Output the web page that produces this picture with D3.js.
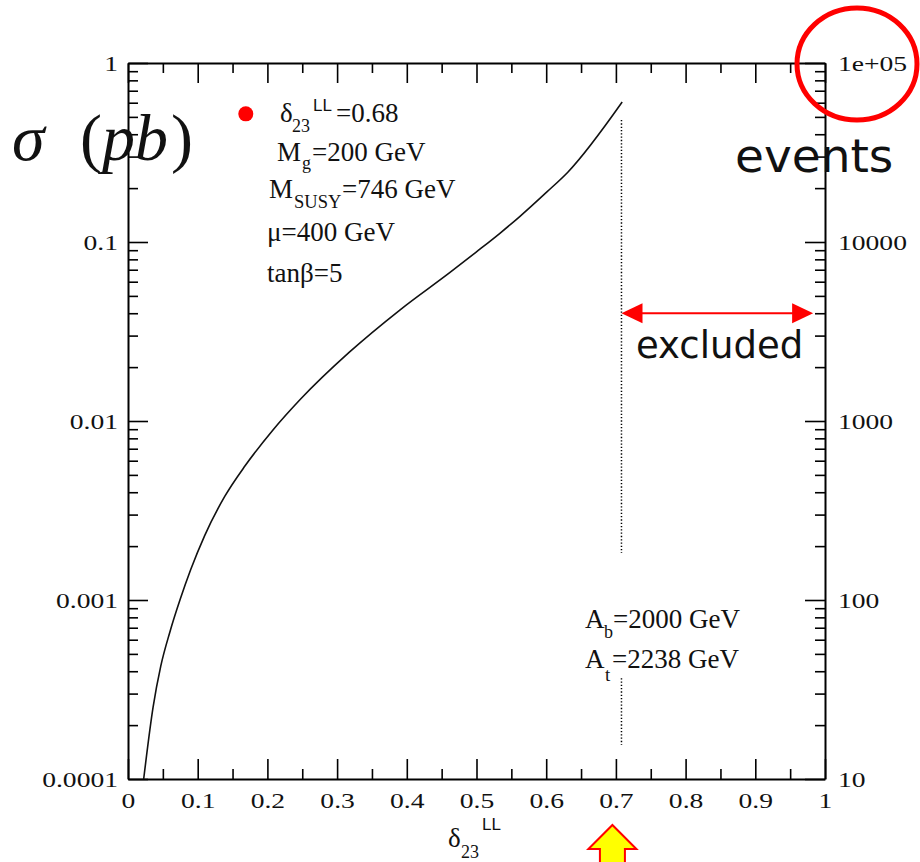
<!DOCTYPE html>
<html>
<head>
<meta charset="utf-8">
<script src="https://cdn.jsdelivr.net/npm/d3@7"></script>
<style>
  body { margin: 0; background: #fff; }
  svg { display: block; }
</style>
</head>
<body>
<svg id="chart" width="920" height="862"></svg>
<script>
// ---- data ----
const delta = [0.0225, 0.036, 0.047, 0.060, 0.075, 0.090, 0.110, 0.139, 0.168, 0.208, 0.247, 0.318, 0.390, 0.462, 0.500, 0.534, 0.562, 0.601, 0.631, 0.709];
const sigma = [1.0e-4, 2.52e-4, 4.27e-4, 6.61e-4, 1.012e-3, 1.479e-3, 2.291e-3, 3.80e-3, 5.62e-3, 8.91e-3, 0.01318, 0.02432, 0.04169, 0.06761, 0.0881, 0.1122, 0.1387, 0.1905, 0.2455, 0.6053];

const xTicks = [0, 0.1, 0.2, 0.3, 0.4, 0.5, 0.6, 0.7, 0.8, 0.9, 1];
const xTickLabels = ["0", "0.1", "0.2", "0.3", "0.4", "0.5", "0.6", "0.7", "0.8", "0.9", "1"];
const xMinor = [0.05, 0.15, 0.25, 0.35, 0.45, 0.55, 0.65, 0.75, 0.85, 0.95];
const yTicks = [1e-4, 1e-3, 1e-2, 0.1, 1];
const yTickLabels = ["0.0001", "0.001", "0.01", "0.1", "1"];
const eventTicks = [10, 100, 1000, 10000, 100000];
const eventTickLabels = ["10", "100", "1000", "10000", "1e+05"];

const exclusionX = 0.708;                 // vertical dotted line position
const dottedUpper = [0.48, 1.83e-3];      // sigma range of the upper dotted piece
const dottedLower = [3.66e-4, 1.55e-4];   // sigma range of the lower dotted piece
const excludedArrow = { x0: 0.708, x1: 0.983, y: 0.04 };
const legendDot = { x: 0.169, y: 0.52 };
const markerArrowX = 0.695;

// ---- layout ----
const svg = d3.select("#chart");
const L = 128, R = 825, T = 63, B = 779;
const x = d3.scaleLinear().domain([0, 1]).range([L, R]);
const y = d3.scaleLog().domain([1e-4, 1]).range([B, T]);
const yR = d3.scaleLog().domain([10, 1e5]).range([B, T]);

const yMinor = [];
for (let e = -4; e < 0; e++) for (let k = 2; k <= 9; k++) yMinor.push(k * Math.pow(10, e));
const yRMinor = yMinor.map(v => v * 1e5);

const SERIF = "Liberation Serif, Times New Roman, serif";
const SANS = "Liberation Sans, Arial, sans-serif";

// horizontal stretch of tick labels: the reference's "10000" is about 69 px wide
const probe = svg.append("text").attr("font-family", SERIF).attr("font-size", 22).text("10000");
const probeW = probe.node().getComputedTextLength() || 55;
probe.remove();
const K = 69 / probeW;

function styleAxis(g, w) {
  g.selectAll("path").attr("stroke", "#000").attr("stroke-width", 2).attr("fill", "none");
  g.selectAll("line").attr("stroke", "#000").attr("stroke-width", w);
  g.selectAll("text").attr("font-family", SERIF).attr("font-size", 22).attr("fill", "#111")
    .attr("transform", `scale(${K},1)`);
}

// minor ticks
svg.append("g").attr("transform", `translate(0,${B})`)
  .call(d3.axisBottom(x).tickValues(xMinor).tickSizeInner(-10).tickSizeOuter(0).tickFormat(""))
  .call(g => { styleAxis(g, 1.6); g.select("path").remove(); });
svg.append("g").attr("transform", `translate(0,${T})`)
  .call(d3.axisTop(x).tickValues(xMinor).tickSizeInner(-10).tickSizeOuter(0).tickFormat(""))
  .call(g => { styleAxis(g, 1.6); g.select("path").remove(); });
svg.append("g").attr("transform", `translate(${L},0)`)
  .call(d3.axisLeft(y).tickValues(yMinor).tickSizeInner(-10).tickSizeOuter(0).tickFormat(""))
  .call(g => { styleAxis(g, 1.6); g.select("path").remove(); });
svg.append("g").attr("transform", `translate(${R},0)`)
  .call(d3.axisRight(yR).tickValues(yRMinor).tickSizeInner(-10).tickSizeOuter(0).tickFormat(""))
  .call(g => { styleAxis(g, 1.6); g.select("path").remove(); });

// major axes
svg.append("g").attr("transform", `translate(0,${B})`)
  .call(d3.axisBottom(x).tickValues(xTicks).tickSizeInner(-20).tickSizeOuter(0).tickPadding(13)
    .tickFormat((d, i) => xTickLabels[i]))
  .call(g => styleAxis(g, 1.6));
svg.append("g").attr("transform", `translate(0,${T})`)
  .call(d3.axisTop(x).tickValues(xTicks).tickSizeInner(-20).tickSizeOuter(0).tickFormat(""))
  .call(g => styleAxis(g, 1.6));
svg.append("g").attr("transform", `translate(${L},0)`)
  .call(d3.axisLeft(y).tickValues(yTicks).tickSizeInner(-20).tickSizeOuter(0)
    .tickFormat((d, i) => yTickLabels[i]))
  .call(g => { styleAxis(g, 1.6); g.selectAll("text").attr("x", -10 / K); });
svg.append("g").attr("transform", `translate(${R},0)`)
  .call(d3.axisRight(yR).tickValues(eventTicks).tickSizeInner(-20).tickSizeOuter(0)
    .tickFormat((d, i) => eventTickLabels[i]))
  .call(g => { styleAxis(g, 1.6); g.selectAll("text").attr("x", 13 / K); });

// curve
const pts = delta.map((d, i) => [d, sigma[i]]);
svg.append("path")
  .datum(pts)
  .attr("fill", "none").attr("stroke", "#111").attr("stroke-width", 1.6)
  .attr("d", d3.line().x(d => x(d[0])).y(d => y(d[1])).curve(d3.curveMonotoneX));

// dotted exclusion line
[dottedUpper, dottedLower].forEach(r => {
  svg.append("line")
    .attr("x1", x(exclusionX)).attr("x2", x(exclusionX))
    .attr("y1", y(r[0])).attr("y2", y(r[1]))
    .attr("stroke", "#000").attr("stroke-width", 1.5).attr("stroke-dasharray", "1.3,2");
});

// excluded double arrow
const ax0 = x(excludedArrow.x0), ax1 = x(excludedArrow.x1), ay = y(excludedArrow.y);
svg.append("line").attr("x1", ax0 + 15).attr("x2", ax1 - 15).attr("y1", ay).attr("y2", ay)
  .attr("stroke", "#f00").attr("stroke-width", 2);
svg.append("path").attr("fill", "#f00")
  .attr("d", `M${ax0},${ay} L${ax0 + 21},${ay - 10} L${ax0 + 21},${ay + 10} Z`);
svg.append("path").attr("fill", "#f00")
  .attr("d", `M${ax1},${ay} L${ax1 - 21},${ay - 10} L${ax1 - 21},${ay + 10} Z`);

svg.append("text").attr("x", 636).attr("y", 358)
  .attr("font-family", "DejaVu Sans, sans-serif").attr("font-size", 37).attr("fill", "#111")
  .text("excluded");

svg.append("text").attr("x", 735).attr("y", 172)
  .attr("font-family", "DejaVu Sans, sans-serif").attr("font-size", 47).attr("fill", "#111")
  .text("events");

// red circle around 1e+05
svg.append("ellipse").attr("cx", 857).attr("cy", 64).attr("rx", 60).attr("ry", 56)
  .attr("fill", "none").attr("stroke", "#f00").attr("stroke-width", 5);

// legend dot
svg.append("circle").attr("cx", x(legendDot.x)).attr("cy", y(legendDot.y)).attr("r", 7.5).attr("fill", "#f00");

// helper for rich text
function rich(parts) {
  const t = svg.append("text").attr("fill", "#111");
  parts.forEach(p => {
    t.append("tspan").attr("x", p.x).attr("y", p.y)
      .attr("font-family", p.f || SERIF).attr("font-size", p.s || 27)
      .attr("font-style", p.i ? "italic" : null)
      .text(p.t);
  });
}

// legend text
rich([{ t: "δ", x: 280, y: 122 }, { t: "23", x: 292, y: 132, s: 18 }, { t: "LL", x: 313, y: 111, s: 17, f: SANS }, { t: "=0.68", x: 336, y: 122 }]);
rich([{ t: "M", x: 277, y: 161 }, { t: "g", x: 302, y: 169, s: 18 }, { t: "=200 GeV", x: 312, y: 161 }]);
rich([{ t: "M", x: 269, y: 198 }, { t: "SUSY", x: 294, y: 208, s: 18.5 }, { t: "=746 GeV", x: 342, y: 198 }]);
rich([{ t: "μ=400 GeV", x: 267, y: 241 }]);
rich([{ t: "tanβ=5", x: 267, y: 282 }]);

// A_b, A_t
rich([{ t: "A", x: 585, y: 628 }, { t: "b", x: 604, y: 638, s: 18 }, { t: "=2000 GeV", x: 613, y: 628 }]);
rich([{ t: "A", x: 585, y: 668 }, { t: "t", x: 605, y: 681, s: 19 }, { t: "=2238 GeV", x: 612, y: 668 }]);

// x axis title
rich([{ t: "δ", x: 448, y: 847 }, { t: "23", x: 461, y: 858, s: 18 }, { t: "LL", x: 482, y: 830, s: 17, f: SANS }]);

// y axis title sigma (pb)
rich([{ t: "σ", x: 12, y: 160, s: 66, i: true }, { t: "(", x: 80, y: 160, s: 66 }, { t: "pb", x: 102, y: 160, s: 66, i: true }, { t: ")", x: 171, y: 160, s: 66 }]);

// yellow marker arrow below the x axis
const mx = x(markerArrowX);
svg.append("path")
  .attr("d", `M${mx},825 L${mx + 24},849 L${mx + 12.5},849 L${mx + 12.5},875 L${mx - 12.5},875 L${mx - 12.5},849 L${mx - 24},849 Z`)
  .attr("fill", "#ff0").attr("stroke", "#f00").attr("stroke-width", 2);
</script>
</body>
</html>
